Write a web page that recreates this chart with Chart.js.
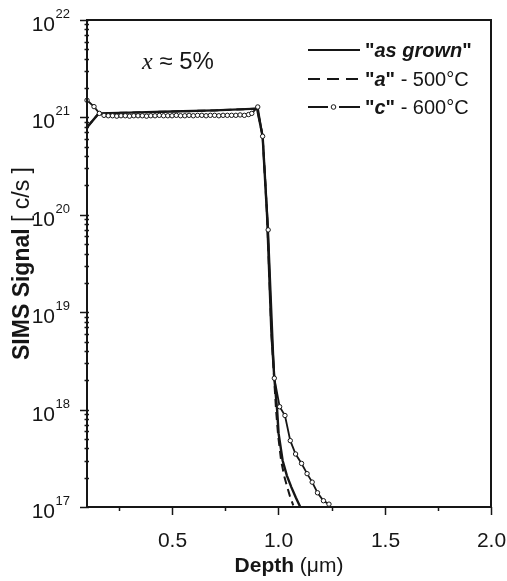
<!DOCTYPE html>
<html><head><meta charset="utf-8">
<script src="https://cdn.jsdelivr.net/npm/chart.js@4/dist/chart.umd.min.js"></script>
<style>html,body{margin:0;padding:0;background:#fff}#wrap{width:507px;height:581px;position:relative}</style>
</head><body><div id="wrap"><canvas id="c"></canvas></div>
<script>
// ---- data ----
const asGrownX = [0.100, 0.155, 0.300, 0.500, 0.700, 0.900, 0.926, 0.947, 0.967, 0.981, 0.994, 1.001, 1.020, 1.040, 1.061, 1.082, 1.103];
const asGrownY = [7.9e20, 1.10e21, 1.12e21, 1.15e21, 1.18e21, 1.23e21, 6.4e20, 9.8e19, 6.3e18, 2.1e18, 1.0e18, 5.7e17, 3.0e17, 2.1e17, 1.6e17, 1.25e17, 1.0e17];

const anneal500X = [0.100, 0.155, 0.300, 0.500, 0.700, 0.900, 0.926, 0.947, 0.967, 0.980, 0.989, 0.999, 1.013, 1.027, 1.040, 1.054, 1.070];
const anneal500Y = [7.9e20, 1.10e21, 1.12e21, 1.15e21, 1.18e21, 1.23e21, 6.4e20, 9.8e19, 6.3e18, 2.1e18, 1.0e18, 5.4e17, 3.0e17, 2.1e17, 1.65e17, 1.3e17, 1.04e17];

const anneal600X = [0.100, 0.133, 0.158,
  0.18, 0.20, 0.22, 0.24, 0.26, 0.28, 0.30, 0.32, 0.34, 0.36, 0.38, 0.40, 0.42, 0.44, 0.46, 0.48, 0.50,
  0.52, 0.54, 0.56, 0.58, 0.60, 0.62, 0.64, 0.66, 0.68, 0.70, 0.72, 0.74, 0.76, 0.78, 0.80, 0.82, 0.84,
  0.86, 0.875, 0.903, 0.926, 0.952, 0.981, 1.006, 1.031, 1.056, 1.081, 1.109, 1.135, 1.159, 1.184, 1.212, 1.238];
const anneal600Y = [1.5e21, 1.29e21, 1.10e21,
  1.05e21, 1.04e21, 1.04e21, 1.03e21, 1.04e21, 1.04e21, 1.03e21, 1.04e21, 1.04e21, 1.04e21, 1.03e21, 1.04e21, 1.04e21, 1.05e21, 1.04e21, 1.04e21, 1.04e21,
  1.05e21, 1.04e21, 1.04e21, 1.05e21, 1.04e21, 1.05e21, 1.05e21, 1.04e21, 1.05e21, 1.05e21, 1.04e21, 1.05e21, 1.05e21, 1.05e21, 1.05e21, 1.06e21, 1.05e21,
  1.07e21, 1.10e21, 1.28e21, 6.4e20, 7.0e19, 2.1e18, 1.07e18, 8.7e17, 4.8e17, 3.5e17, 2.8e17, 2.2e17, 1.8e17, 1.4e17, 1.16e17, 1.07e17];

const yMajorExps = [17, 18, 19, 20, 21, 22];
const yMinorMult = [2, 3, 4, 5, 6, 7, 8, 9];
const xMajorTicks = [0.5, 1.0, 1.5, 2.0];
const xTickLabels = ['0.5', '1.0', '1.5', '2.0'];
const xMinorTicks = [0.25, 0.75, 1.25, 1.75];

const pts = (xs, ys) => xs.map((x, i) => ({x, y: ys[i]}));
const INK = '#161616';
const SANS = '"Liberation Sans", Arial, Helvetica, sans-serif';

function runs(ctx, parts, x, y, align) {
  let w = 0;
  parts.forEach(p => { ctx.font = p[1]; w += ctx.measureText(p[0]).width; });
  let cx = align === 'center' ? x - w / 2 : (align === 'right' ? x - w : x);
  ctx.textAlign = 'left';
  parts.forEach(p => { ctx.font = p[1]; ctx.fillText(p[0], cx, y); cx += ctx.measureText(p[0]).width; });
}

const decor = {
  id: 'decor',
  afterDraw(chart) {
    const ctx = chart.ctx, a = chart.chartArea;
    const xs = chart.scales.x, ys = chart.scales.y;
    ctx.save();
    ctx.strokeStyle = INK; ctx.fillStyle = INK;
    ctx.lineWidth = 2;
    ctx.strokeRect(a.left, a.top, a.right - a.left, a.bottom - a.top);
    // y ticks
    ctx.lineWidth = 1.5;
    yMajorExps.forEach((e, i) => {
      const py = Math.round(ys.getPixelForValue(Math.pow(10, e))) + 0.5;
      ctx.beginPath(); ctx.moveTo(a.left - 7, py); ctx.lineTo(a.left + 2, py); ctx.stroke();
      if (i < yMajorExps.length - 1) {
        yMinorMult.forEach(m => {
          const qy = Math.round(ys.getPixelForValue(m * Math.pow(10, e))) + 0.5;
          ctx.beginPath(); ctx.moveTo(a.left - 2.5, qy); ctx.lineTo(a.left + 2, qy); ctx.stroke();
        });
      }
      ctx.textBaseline = 'alphabetic';
      ctx.font = '21px ' + SANS; ctx.textAlign = 'right';
      ctx.fillText('10', 55, py + 10.5);
      ctx.font = '13px ' + SANS; ctx.textAlign = 'left';
      ctx.fillText(String(e), 55.5, py - 2.5);
    });
    // x ticks
    xMajorTicks.forEach((v, i) => {
      const px = Math.round(xs.getPixelForValue(v)) + 0.5;
      ctx.beginPath(); ctx.moveTo(px, a.bottom); ctx.lineTo(px, a.bottom + 8); ctx.stroke();
      ctx.font = '21px ' + SANS; ctx.textAlign = 'center';
      ctx.fillText(xTickLabels[i], px, 547);
    });
    xMinorTicks.forEach(v => {
      const px = Math.round(xs.getPixelForValue(v)) + 0.5;
      ctx.beginPath(); ctx.moveTo(px, a.bottom); ctx.lineTo(px, a.bottom + 4); ctx.stroke();
    });
    // axis titles
    const cxp = (a.left + a.right) / 2, cyp = (a.top + a.bottom) / 2;
    runs(ctx, [['Depth', 'bold 21px ' + SANS], [' (\u03bcm)', '21px ' + SANS]], cxp, 572, 'center');
    ctx.save();
    ctx.translate(29, cyp); ctx.rotate(-Math.PI / 2);
    runs(ctx, [['SIMS Signal', 'bold 23px ' + SANS], [' [ c/s ]', '23px ' + SANS]], 0, 0, 'center');
    ctx.restore();
    // annotation
    runs(ctx, [['x', 'italic 24px "Liberation Serif", "Times New Roman", serif'], [' \u2248 5%', '24px ' + SANS]], 142, 69, 'left');
    // legend
    ctx.lineWidth = 2;
    ctx.beginPath(); ctx.moveTo(308, 50); ctx.lineTo(360, 50); ctx.stroke();
    [[308, 320], [327, 339], [346, 358]].forEach(s => { ctx.beginPath(); ctx.moveTo(s[0], 79); ctx.lineTo(s[1], 79); ctx.stroke(); });
    ctx.beginPath(); ctx.moveTo(308, 107); ctx.lineTo(328, 107); ctx.moveTo(339, 107); ctx.lineTo(360, 107); ctx.stroke();
    ctx.lineWidth = 1; ctx.fillStyle = '#fff';
    ctx.beginPath(); ctx.arc(333.5, 107, 2.3, 0, Math.PI * 2); ctx.fill(); ctx.stroke();
    ctx.fillStyle = INK;
    const B = 'bold 20px ' + SANS, BI = 'italic bold 20px ' + SANS, N = '20px ' + SANS;
    runs(ctx, [['"', B], ['as grown', BI], ['"', B]], 365, 57, 'left');
    runs(ctx, [['"', B], ['a', BI], ['"', B], [' - 500\u00b0C', N]], 365, 86, 'left');
    runs(ctx, [['"', B], ['c', BI], ['"', B], [' - 600\u00b0C', N]], 365, 114, 'left');
    ctx.restore();
  }
};

new Chart(document.getElementById('c'), {
  type: 'line',
  data: {
    datasets: [
      { label: '"c" - 600°C', data: pts(anneal600X, anneal600Y), borderColor: INK, borderWidth: 1.8,
        pointRadius: 2.2, pointBackgroundColor: '#fff', pointBorderColor: INK, pointBorderWidth: 1, clip: 4 },
      { label: '"a" - 500°C', data: pts(anneal500X, anneal500Y), borderColor: INK, borderWidth: 2,
        borderDash: [8, 5], pointRadius: 0, clip: 2 },
      { label: '"as grown"', data: pts(asGrownX, asGrownY), borderColor: INK, borderWidth: 2.4,
        pointRadius: 0, clip: 2 }
    ]
  },
  options: {
    responsive: true, maintainAspectRatio: false, animation: false,
    layout: { padding: { left: 87, right: 16, top: 20, bottom: 74 } },
    plugins: { legend: { display: false }, tooltip: { enabled: false } },
    scales: {
      x: { type: 'linear', min: 0.1, max: 2.0, grid: { display: false }, border: { display: false },
           ticks: { display: false }, afterFit: s => { s.height = 0; } },
      y: { type: 'logarithmic', min: 1e17, max: 1e22, grid: { display: false }, border: { display: false },
           ticks: { display: false }, afterFit: s => { s.width = 0; } }
    }
  },
  plugins: [decor]
});
</script>
</body></html>
